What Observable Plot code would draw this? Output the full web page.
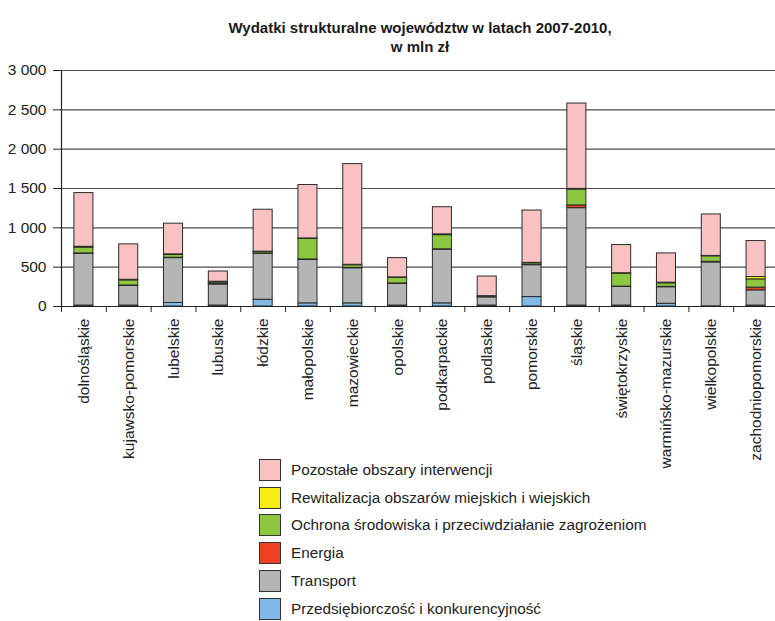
<!DOCTYPE html>
<html><head><meta charset="utf-8">
<script src="https://cdn.jsdelivr.net/npm/d3@7"></script>
<script src="https://cdn.jsdelivr.net/npm/@observablehq/plot@0.6"></script>
<style>
body{margin:0;background:#fff;width:775px;height:621px;overflow:hidden;font-family:"Liberation Sans",Arial,sans-serif;position:relative}
#title{position:absolute;left:0;top:18px;width:840px;text-align:center;font-weight:bold;font-size:15px;line-height:19px;color:#1a1a1a}
#chart{position:absolute;left:0;top:60px;width:778px}
#chart svg{overflow:visible;max-width:none!important}
#legend{position:absolute;left:259px;top:456px;font-size:15.3px;color:#222}
.row{display:flex;align-items:center;height:27.8px}
.sw{width:22px;height:22px;border:1px solid #333;box-sizing:border-box;margin-right:10px}
</style></head>
<body>
<div id="title">Wydatki strukturalne województw w latach 2007-2010,<br>w mln zł</div>
<div id="chart"></div>
<div id="legend"></div>
<script>
const categories = ["dolnośląskie","kujawsko-pomorskie","lubelskie","lubuskie","łódzkie","małopolskie","mazowieckie","opolskie","podkarpackie","podlaskie","pomorskie","śląskie","świętokrzyskie","warmińsko-mazurskie","wielkopolskie","zachodniopomorskie"];
const seriesNames = ["Przedsiębiorczość i konkurencyjność","Transport","Energia","Ochrona środowiska i przeciwdziałanie zagrożeniom","Rewitalizacja obszarów miejskich i wiejskich","Pozostałe obszary interwencji"];
const seriesColors = ["#80b9e5","#b4b6b6","#ee4023","#8dc63f","#f7ec13","#f8c2c2"];
const przedsiebiorczosc = [12,12,45,12,86,40,40,12,40,12,120,12,12,35,2,12];
const transport = [658,250,570,268,585,553,446,276,682,104,405,1238,236,210,558,193];
const energia = [5,5,5,5,3,5,5,5,5,5,5,35,5,5,8,35];
const ochrona = [72,65,35,20,18,262,34,72,180,5,20,200,165,45,70,105];
const rewitalizacja = [12,8,8,10,5,5,5,5,10,5,5,10,5,8,5,30];
const pozostale = [683,450,390,130,533,679,1280,245,345,250,665,1085,358,372,527,457];
const yTicks = [0,500,1000,1500,2000,2500,3000];

const seriesValues = [przedsiebiorczosc, transport, energia, ochrona, rewitalizacja, pozostale];
const data = seriesNames.flatMap((s, i) => categories.map((c, j) => ({cat: c, series: s, value: seriesValues[i][j]})));

const fmt = d3.formatLocale({thousands: " ", grouping: [3], decimal: ","}).format(",");
const W = 778, ML = 61;
const step = (W - ML) / categories.length;

const chart = Plot.plot({
  width: W, height: 390,
  marginLeft: ML, marginRight: 0, marginTop: 10, marginBottom: 144,
  style: {fontFamily: "'Liberation Sans', Arial, sans-serif", fontSize: "15px", color: "#222", background: "white", overflow: "visible"},
  x: {domain: categories, paddingInner: 0.575, paddingOuter: 0.2875, align: 0.5, round: false, label: null, axis: null},
  y: {domain: [0, 3000], label: null, axis: null},
  color: {domain: seriesNames, range: seriesColors},
  marks: [
    Plot.gridY(yTicks, {stroke: "#4a4a4a", strokeOpacity: 1, strokeWidth: 1.2}),
    Plot.barY(data, {x: "cat", y: "value", fill: "series", stroke: "#2a2a2a", strokeWidth: 1}),
    Plot.ruleY([0], {stroke: "#222", strokeWidth: 1.2}),
    Plot.frame({anchor: "left", stroke: "#222", strokeWidth: 1.2}),
    Plot.axisY({ticks: yTicks, tickFormat: fmt, tickSize: 8, tickPadding: 7, fontSize: 15.5, label: null}),
    Plot.axisX({tickSize: 6, text: null, dx: -step / 2, label: null}),
    Plot.text(categories, {x: d => d, y: () => 0, text: d => d, rotate: -90, textAnchor: "end", dy: 12, fontSize: 15.5, fill: "#222"})
  ]
});
document.getElementById("chart").appendChild(chart);

const lg = document.getElementById("legend");
seriesNames.map((s, i) => ({s, c: seriesColors[i]})).reverse().forEach(({s, c}) => {
  const row = document.createElement("div"); row.className = "row";
  const sw = document.createElement("div"); sw.className = "sw"; sw.style.background = c;
  const t = document.createElement("span"); t.textContent = s;
  row.appendChild(sw); row.appendChild(t); lg.appendChild(row);
});
</script>
</body></html>
